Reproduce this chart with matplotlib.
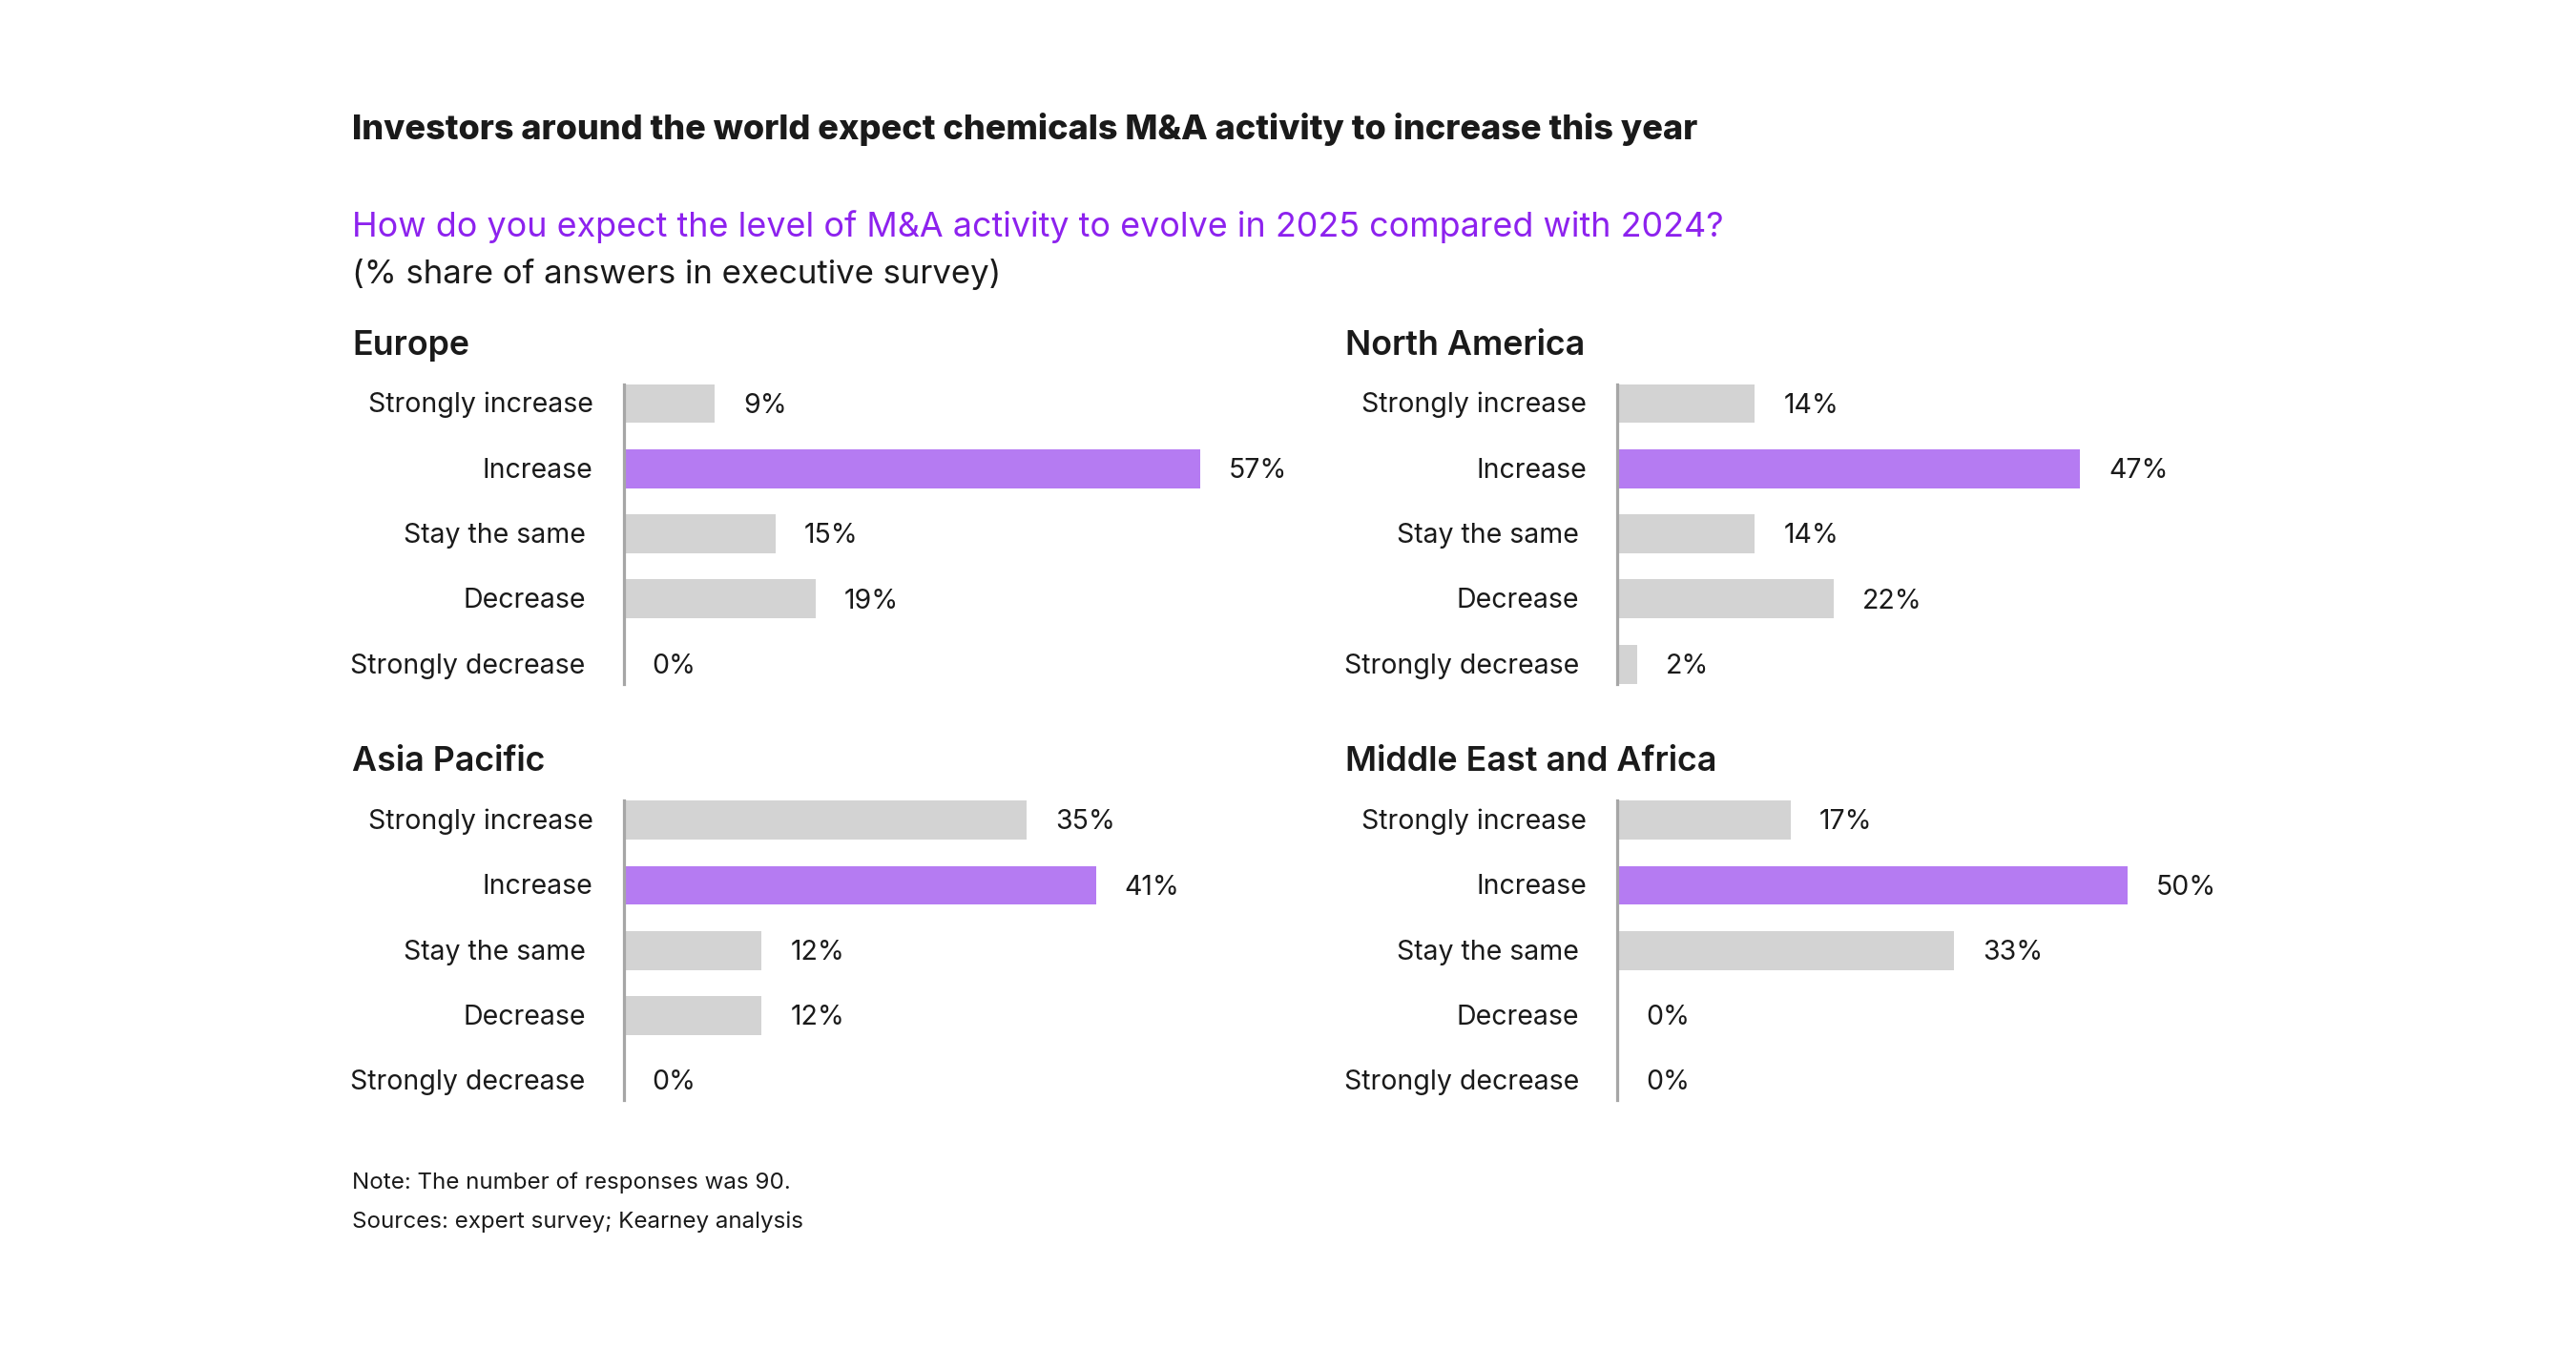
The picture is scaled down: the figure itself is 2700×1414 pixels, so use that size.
import matplotlib
matplotlib.use("Agg")
import matplotlib.pyplot as plt

# ---------------- data ----------------
categories = ["Strongly increase", "Increase", "Stay the same", "Decrease", "Strongly decrease"]
regions = ["Europe", "North America", "Asia Pacific", "Middle East and Africa"]
europe = [9, 57, 15, 19, 0]
north_america = [14, 47, 14, 22, 2]
asia_pacific = [35, 41, 12, 12, 0]
middle_east_africa = [17, 50, 33, 0, 0]
highlight = "Increase"

title = "Investors around the world expect chemicals M&A activity to increase this year"
question = "How do you expect the level of M&A activity to evolve in 2025 compared with 2024?"
unit_note = "(% share of answers in executive survey)"
note = "Note: The number of responses was 90."
sources = "Sources: expert survey; Kearney analysis"

# ---------------- style ----------------
W, H, DPI = 2700, 1414, 100
PT = 72.0 / DPI
FONT = ["Inter", "DejaVu Sans"]
DARK = "#1a1a1a"
GREY_BAR = "#d3d3d3"
PURPLE_BAR = "#b57bf2"
AXIS_COL = "#a6a6a6"
PURPLE_TXT = "#8d22ee"

plt.rcParams["font.family"] = FONT

fig = plt.figure(figsize=(W / DPI, H / DPI), dpi=DPI)
fig.patch.set_facecolor("white")


def fx(px):
    return px / W


def fy(py):
    return 1 - py / H


fig.text(fx(369), fy(146), title, fontsize=26, fontweight="heavy", color=DARK, va="baseline")
fig.text(fx(369), fy(248), question, fontsize=25.8, color=PURPLE_TXT, va="baseline")
fig.text(fx(369), fy(297), unit_note, fontsize=25, color=DARK, va="baseline")
fig.text(fx(369), fy(1246), note, fontsize=17.4, color=DARK, va="baseline")
fig.text(fx(369), fy(1287), sources, fontsize=17.4, color=DARK, va="baseline")

ROW = 68.3
AXW = 720
panels = [
    (regions[0], europe, 369, 653.5, 423.0, 10.6),
    (regions[1], north_america, 1410, 1695.0, 423.0, 10.32),
    (regions[2], asia_pacific, 369, 653.5, 859.7, 12.08),
    (regions[3], middle_east_africa, 1410, 1695.0, 859.7, 10.7),
]
label_pads = [32, 32, 40, 40, 40]

for name, vals, title_x, axis_x, first_row, ppp in panels:
    fig.text(fx(title_x), fy(first_row - 51.3), name, fontsize=25.8, fontweight="semibold",
             color=DARK, va="baseline")
    top = first_row - 0.3 * ROW
    height = 4.6 * ROW
    ax = fig.add_axes([fx(axis_x), fy(top + height), AXW / W, height / H])
    colors = [PURPLE_BAR if c == highlight else GREY_BAR for c in categories]
    ax.barh(range(len(categories)), vals, height=0.6, color=colors, zorder=1)
    ax.set_ylim(len(categories) - 0.7, -0.3)
    ax.set_xlim(0, AXW / ppp)
    for s in ("top", "right", "bottom"):
        ax.spines[s].set_visible(False)
    ax.spines["left"].set_color(AXIS_COL)
    ax.spines["left"].set_linewidth(3.2 * PT)
    ax.spines["left"].set_zorder(3)
    ax.set_xticks([])
    ax.set_yticks([])
    ax.patch.set_alpha(0)
    for i, (c, v) in enumerate(zip(categories, vals)):
        ax.annotate(c, xy=(0, i), xytext=(-label_pads[i] * PT, -9.4 * PT),
                    textcoords="offset points", ha="right", va="baseline",
                    fontsize=20.5, color=DARK, annotation_clip=False)
        ax.annotate(f"{v}%", xy=(v, i), xytext=(30 * PT, -9.6 * PT),
                    textcoords="offset points", ha="left", va="baseline",
                    fontsize=20.5, color=DARK, annotation_clip=False)

fig.savefig("out.png", dpi=DPI, facecolor="white")
